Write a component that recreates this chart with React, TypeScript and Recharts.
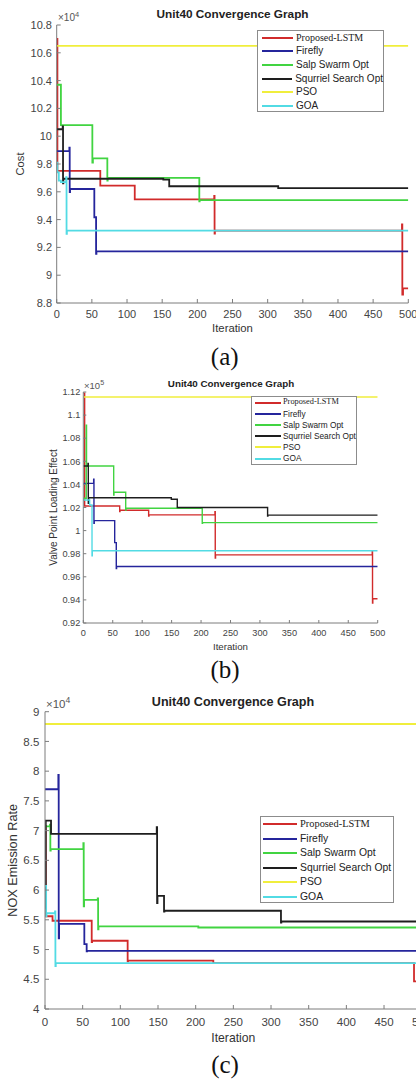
import React from 'react';
import { LineChart, Line, XAxis, YAxis, Legend } from 'recharts';

type Pt = [number, number];

// ---------- shared ----------
const iterationTicks = [0, 50, 100, 150, 200, 250, 300, 350, 400, 450, 500];
const seriesNames = ['Proposed-LSTM', 'Firefly', 'Salp Swarm Opt', 'Squrriel Search Opt', 'PSO', 'GOA'];
const seriesColors = ['#d12b2b', '#25259c', '#41d441', '#1e1e1e', '#f0ee3c', '#52dbe4'];
const serifSeries = [true, false, false, false, false, false];
const chartTitle = 'Unit40 Convergence Graph';
const captions = ['(a)', '(b)', '(c)'];

// ---------- (a) Cost, x10^4 ----------
const costTicks = [8.8, 9, 9.2, 9.4, 9.6, 9.8, 10, 10.2, 10.4, 10.6, 10.8];
const costLSTM: Pt[] = [[0, 10.7], [1, 9.75], [62, 9.645], [111, 9.545], [224, 9.57], [224.5, 9.3], [225, 9.32], [491, 9.365], [491.5, 8.86], [492.5, 8.905], [500, 8.905]];
const costFirefly: Pt[] = [[0, 9.893], [18, 9.918], [18.5, 9.597], [19, 9.62], [53.5, 9.417], [56, 9.153], [56.5, 9.172], [500, 9.172]];
const costSalp: Pt[] = [[0, 10.37], [6, 10.08], [50.7, 9.81], [51.5, 9.84], [72, 9.68], [72.5, 9.7], [202.8, 9.532], [203.3, 9.54], [500, 9.54]];
const costSquirrel: Pt[] = [[0, 10.05], [8.5, 10.07], [9, 9.66], [9.5, 9.694], [151.6, 9.687], [160, 9.64], [315, 9.626], [500, 9.626]];
const costPSO: Pt[] = [[0, 10.65], [500, 10.65]];
const costGOA: Pt[] = [[0, 9.81], [1, 9.74], [3, 9.68], [6, 9.67], [13.5, 9.705], [14, 9.297], [14.5, 9.32], [500, 9.32]];

// ---------- (b) Valve Point Loading Effect, x10^5 ----------
const valveTicks = [0.92, 0.94, 0.96, 0.98, 1, 1.02, 1.04, 1.06, 1.08, 1.1, 1.12];
const valveLSTM: Pt[] = [[0, 1.119], [2.3, 1.0213], [61.8, 1.0164], [62.3, 1.0176], [111, 1.0127], [111.5, 1.0136], [223.6, 1.0164], [224.1, 0.9762], [224.6, 0.979], [490.7, 0.982], [491.2, 0.9373], [491.7, 0.941], [500, 0.941]];
const valveFirefly: Pt[] = [[0, 1.0409], [17.6, 1.0444], [18.1, 1.0064], [18.6, 1.0086], [53.3, 0.9896], [56, 0.9672], [56.5, 0.9689], [500, 0.9689]];
const valveSalp: Pt[] = [[0, 1.028], [5, 1.0913], [5.5, 1.0559], [51.6, 1.0308], [52.1, 1.0332], [72, 1.0179], [72.5, 1.0193], [202, 1.0064], [202.5, 1.0069], [500, 1.0069]];
const valveSquirrel: Pt[] = [[0, 1.0559], [8, 1.0582], [8.5, 1.0237], [9, 1.0285], [149.5, 1.0271], [159.6, 1.02], [313, 1.0127], [313.5, 1.0134], [500, 1.0134]];
const valvePSO: Pt[] = [[0, 1.1157], [500, 1.1157]];
const valveGOA: Pt[] = [[0, 1.0265], [10.8, 1.0222], [14.8, 0.9782], [15.3, 0.9826], [500, 0.9826]];

// ---------- (c) NOX Emission Rate, x10^4 ----------
const noxTicks = [4, 4.5, 5, 5.5, 6, 6.5, 7, 7.5, 8, 8.5, 9];
const noxLSTM: Pt[] = [[0, 7.08], [0.9, 5.56], [10, 5.484], [62, 5.125], [62.5, 5.148], [109.7, 4.8], [110.2, 4.812], [223.4, 4.773], [489.8, 4.464], [500, 4.464]];
const noxFirefly: Pt[] = [[0, 7.696], [17.7, 7.936], [18.2, 5.19], [18.7, 5.43], [52.2, 5.09], [55.3, 4.97], [55.8, 4.979], [500, 4.979]];
const noxSalp: Pt[] = [[0, 7.07], [6.6, 7.1], [7.1, 6.665], [7.6, 6.688], [50.9, 6.79], [51.4, 5.725], [51.9, 5.836], [70, 5.86], [70.5, 5.34], [71, 5.388], [203.5, 5.371], [500, 5.371]];
const noxSquirrel: Pt[] = [[0, 5.7], [1, 7.169], [8, 6.945], [148.3, 7.058], [148.8, 5.78], [149.3, 5.903], [158, 5.64], [158.5, 5.652], [313.2, 5.455], [313.7, 5.472], [500, 5.472]];
const noxPSO: Pt[] = [[0, 8.793], [500, 8.793]];
const noxGOA: Pt[] = [[0, 6.07], [1.5, 5.56], [2, 5.61], [13.3, 5.64], [13.8, 4.72], [14.3, 4.773], [500, 4.773]];

const SANS = '"Liberation Sans", Arial, Helvetica, sans-serif';
const SERIF = '"Liberation Serif", "Times New Roman", serif';
const AXIS = '#7d7d7d';
const TICKTXT = '#444';

const toRows = (pts: Pt[]) => pts.map(([x, y]) => ({ x, y }));

interface LegendCfg { left: number; top: number; width: number; height: number; rowH: number; font: number; padLeft: number; lineLen: number; gap: number; }

function LegendBox({ cfg }: { cfg: LegendCfg }) {
  return (
    <div style={{ width: cfg.width, height: cfg.height, boxSizing: 'border-box', border: '1px solid #8c8c8c', background: '#fff' }}>
      {seriesNames.map((n, i) => (
        <div key={n} style={{ height: cfg.rowH, display: 'flex', alignItems: 'center', whiteSpace: 'nowrap' }}>
          <div style={{ marginLeft: cfg.padLeft, width: cfg.lineLen, height: 2, background: seriesColors[i] }} />
          <span style={{ marginLeft: cfg.gap, fontSize: cfg.font, lineHeight: 1, color: '#222', fontFamily: serifSeries[i] ? SERIF : SANS }}>{n}</span>
        </div>
      ))}
    </div>
  );
}

interface PanelCfg {
  top: number; width: number; height: number; marginTop: number; marginRight: number;
  yAxisWidth: number; xAxisHeight: number; yDomain: [number, number]; yTicks: number[];
  series: Pt[][]; tickFont: number; tickLen: number; xTickMargin: number; yTickMargin: number;
  xLabel: string; xLabelOffset: number; xLabelFont: number;
  yLabel: string; yLabelOffset: number; yLabelFont: number; strokeW: number; legend: LegendCfg;
}

function Panel({ cfg }: { cfg: PanelCfg }) {
  return (
    <div style={{ position: 'absolute', left: 0, top: cfg.top }}>
      <LineChart width={cfg.width} height={cfg.height} margin={{ top: cfg.marginTop, right: cfg.marginRight, left: 0, bottom: 0 }}>
        <XAxis
          type="number" dataKey="x" domain={[0, 500]} ticks={iterationTicks} interval={0} allowDataOverflow
          height={cfg.xAxisHeight} tickSize={-cfg.tickLen} tickMargin={cfg.xTickMargin}
          axisLine={{ stroke: AXIS }} tickLine={{ stroke: AXIS }}
          tick={{ fontSize: cfg.tickFont, fill: TICKTXT, fontFamily: SANS }}
          label={{
            content: (p: any) => {
              const vb = p.viewBox;
              return (
                <text x={vb.x + vb.width / 2} y={vb.y + vb.height - cfg.xLabelOffset} textAnchor="middle" fontSize={cfg.xLabelFont} fill="#333" fontFamily={SANS}>{cfg.xLabel}</text>
              );
            },
          }}
        />
        <YAxis
          type="number" domain={cfg.yDomain} ticks={cfg.yTicks} interval={0} allowDataOverflow
          width={cfg.yAxisWidth} tickSize={-cfg.tickLen} tickMargin={cfg.yTickMargin}
          axisLine={{ stroke: AXIS }} tickLine={{ stroke: AXIS }}
          tick={{ fontSize: cfg.tickFont, fill: TICKTXT, fontFamily: SANS }}
          label={{
            content: (p: any) => {
              const vb = p.viewBox;
              const cx = vb.x + cfg.yLabelOffset;
              const cy = vb.y + vb.height / 2;
              return (
                <text x={cx} y={cy} transform={`rotate(-90 ${cx} ${cy})`} textAnchor="middle" dominantBaseline="central" fontSize={cfg.yLabelFont} fill="#333" fontFamily={SANS}>{cfg.yLabel}</text>
              );
            },
          }}
        />
        <Legend
          layout="vertical" align="center" verticalAlign="middle"
          wrapperStyle={{ left: cfg.legend.left, top: cfg.legend.top, width: cfg.legend.width, height: cfg.legend.height }}
          content={() => <LegendBox cfg={cfg.legend} />}
        />
        {cfg.series.map((pts, i) => (
          <Line
            key={seriesNames[i]} name={seriesNames[i]} data={toRows(pts)} dataKey="y" type="stepAfter"
            stroke={seriesColors[i]} strokeWidth={cfg.strokeW} dot={false} activeDot={false} isAnimationActive={false}
          />
        ))}
      </LineChart>
    </div>
  );
}

const panelA: PanelCfg = {
  top: 0, width: 430, height: 340, marginTop: 25, marginRight: 21.7, yAxisWidth: 56.7, xAxisHeight: 37,
  yDomain: [8.8, 10.8], yTicks: costTicks,
  series: [costLSTM, costFirefly, costSalp, costSquirrel, costPSO, costGOA],
  tickFont: 11, tickLen: 4, xTickMargin: 11, yTickMargin: 8.7,
  xLabel: 'Iteration', xLabelOffset: 8, xLabelFont: 11.3,
  yLabel: 'Cost', yLabelOffset: 20, yLabelFont: 11.2, strokeW: 1.8,
  legend: { left: 257, top: 30, width: 127, height: 82, rowH: 13.6, font: 10, padLeft: 4, lineLen: 31, gap: 3 },
};

const panelB: PanelCfg = {
  top: 370, width: 400, height: 283, marginTop: 22, marginRight: 22.3, yAxisWidth: 83.3, xAxisHeight: 30,
  yDomain: [0.92, 1.12], yTicks: valveTicks,
  series: [valveLSTM, valveFirefly, valveSalp, valveSquirrel, valvePSO, valveGOA],
  tickFont: 9.2, tickLen: 3, xTickMargin: 9.7, yTickMargin: 6,
  xLabel: 'Iteration', xLabelOffset: 3.5, xLabelFont: 9.7,
  yLabel: 'Valve Point Loading Effect', yLabelOffset: 53, yLabelFont: 10, strokeW: 1.4,
  legend: { left: 251, top: 26, width: 106, height: 69, rowH: 11.2, font: 8.3, padLeft: 3, lineLen: 26, gap: 2 },
};

const panelC: PanelCfg = {
  top: 690, width: 440, height: 359, marginTop: 21.7, marginRight: 18.3, yAxisWidth: 45, xAxisHeight: 40,
  yDomain: [4, 9], yTicks: noxTicks,
  series: [noxLSTM, noxFirefly, noxSalp, noxSquirrel, noxPSO, noxGOA],
  tickFont: 11.5, tickLen: 4, xTickMargin: 12.7, yTickMargin: 9.7,
  xLabel: 'Iteration', xLabelOffset: 7, xLabelFont: 12.2,
  yLabel: 'NOX Emission Rate', yLabelOffset: 13, yLabelFont: 12.7, strokeW: 1.8,
  legend: { left: 260, top: 126, width: 134, height: 87, rowH: 14.5, font: 10.4, padLeft: 2, lineLen: 34, gap: 3 },
};

function CenterText({ x, y, size, bold, family, color, children }: { x: number; y: number; size: number; bold?: boolean; family: string; color: string; children: React.ReactNode }) {
  return (
    <div style={{ position: 'absolute', left: x, top: y, transform: 'translate(-50%, -50%)', fontSize: size, lineHeight: 1, fontWeight: bold ? 'bold' : 'normal', fontFamily: family, color, whiteSpace: 'nowrap' }}>
      {children}
    </div>
  );
}

function Multiplier({ x, y, size, exp }: { x: number; y: number; size: number; exp: number }) {
  return (
    <div style={{ position: 'absolute', left: x, top: y - size / 2, fontSize: size, lineHeight: 1, fontFamily: SANS, color: '#555', whiteSpace: 'nowrap' }}>
      ×10<span style={{ fontSize: size * 0.75, position: 'relative', top: -size * 0.45 }}>{exp}</span>
    </div>
  );
}

export default function App() {
  return (
    <div style={{ position: 'absolute', left: 0, top: 0, width: 416, height: 1079, overflow: 'hidden', background: '#fff' }}>
      <Panel cfg={panelA} />
      <Panel cfg={panelB} />
      <Panel cfg={panelC} />
      <CenterText x={232.5} y={15} size={11.8} bold family={SANS} color="#222">{chartTitle}</CenterText>
      <CenterText x={231} y={383.7} size={9.8} bold family={SANS} color="#222">{chartTitle}</CenterText>
      <CenterText x={233} y={701.7} size={12.6} bold family={SANS} color="#222">{chartTitle}</CenterText>
      <Multiplier x={58} y={18.3} size={10} exp={4} />
      <Multiplier x={84} y={386} size={9.5} exp={5} />
      <Multiplier x={46} y={705} size={11.5} exp={4} />
      <CenterText x={224.7} y={356} size={25} family={SERIF} color="#111">{captions[0]}</CenterText>
      <CenterText x={225} y={669} size={25} family={SERIF} color="#111">{captions[1]}</CenterText>
      <CenterText x={225} y={1064} size={25} family={SERIF} color="#111">{captions[2]}</CenterText>
    </div>
  );
}
